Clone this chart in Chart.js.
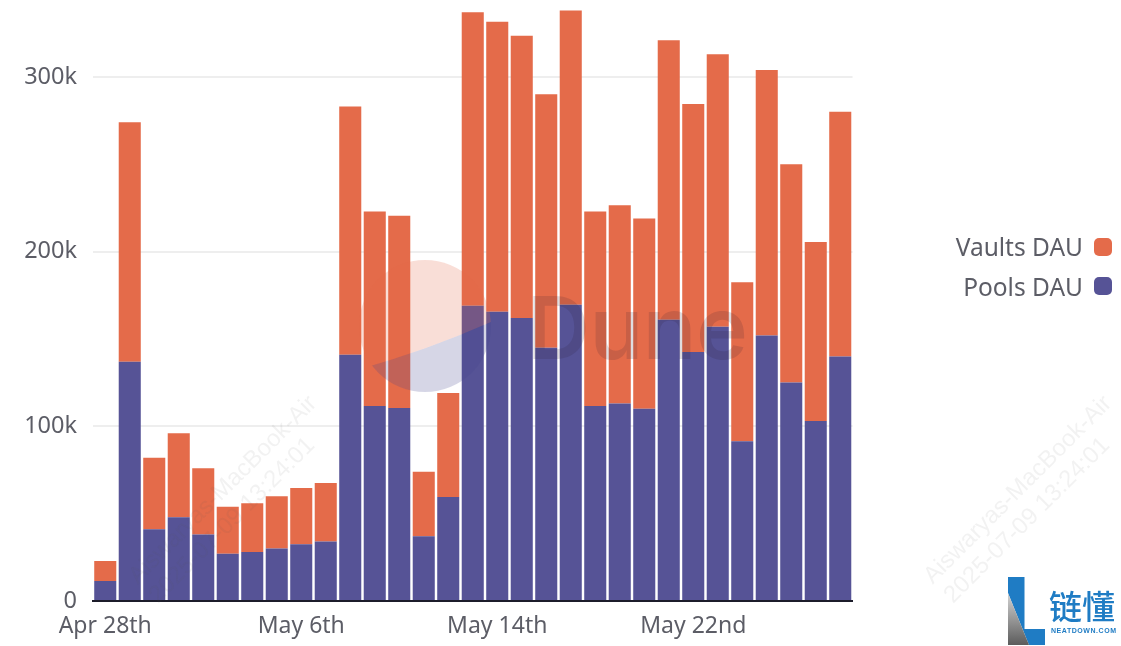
<!DOCTYPE html>
<html>
<head>
<meta charset="utf-8">
<title>Pools and Vaults DAU</title>
<script src="https://cdn.jsdelivr.net/npm/chart.js@4/dist/chart.umd.min.js"></script>
<style>
  html, body { margin: 0; background: #fff; }
  #wrap { position: relative; width: 1121px; height: 646px; overflow: hidden; }
  #legend { position: absolute; right: 9px; top: 227px; font: 24.5px "Noto Sans", sans-serif; color: #5c5d66; }
  #legend div { display: flex; align-items: center; justify-content: flex-end; height: 39.5px; }
  #legend i { display: inline-block; width: 18px; height: 18px; border-radius: 5px; margin-left: 11px; }
</style>
</head>
<body>
<div id="wrap">
  <canvas id="chart" width="1121" height="646"></canvas>
  <div id="legend"></div>
</div>
<script>
const TEXT_COLOR = '#5c5d66';
const VAULTS_COLOR = '#e46b4a';
const POOLS_COLOR = '#565396';

const days = [
  'Apr 28th', 'Apr 29th', 'Apr 30th', 'May 1st', 'May 2nd', 'May 3rd', 'May 4th', 'May 5th',
  'May 6th', 'May 7th', 'May 8th', 'May 9th', 'May 10th', 'May 11th', 'May 12th', 'May 13th',
  'May 14th', 'May 15th', 'May 16th', 'May 17th', 'May 18th', 'May 19th', 'May 20th', 'May 21st',
  'May 22nd', 'May 23rd', 'May 24th', 'May 25th', 'May 26th', 'May 27th', 'May 28th',
];
const poolsDau = [
  11400, 137000, 41000, 48000, 38000, 27000, 28000, 30000,
  32500, 34000, 141000, 111600, 110500, 37000, 59500, 169000,
  165500, 162000, 145000, 169500, 111600, 113000, 110000, 161000,
  142500, 157000, 91500, 152000, 125000, 103000, 140000,
];
const vaultsDau = [
  11500, 137000, 41000, 48000, 38000, 27000, 28000, 30000,
  32200, 33500, 142000, 111400, 110000, 37000, 59500, 168000,
  166000, 161500, 145000, 168500, 111400, 113500, 109000, 160000,
  142000, 156000, 91000, 152000, 125000, 102500, 140000,
];
const yTicks = [0, 100000, 200000, 300000];

// Dune mark, machine stamps and the publisher logo that sit on top of the chart.
const overlays = {
  id: 'overlays',
  afterDatasetsDraw(chart) {
    const ctx = chart.ctx;

    ctx.save();
    ctx.beginPath();
    ctx.arc(425, 326, 66, 0, Math.PI * 2);
    ctx.clip();
    ctx.beginPath();
    ctx.moveTo(350, 372);
    ctx.quadraticCurveTo(430, 350, 500, 318);
    ctx.lineTo(500, 250);
    ctx.lineTo(350, 250);
    ctx.closePath();
    ctx.fillStyle = 'rgba(229, 107, 74, 0.22)';
    ctx.fill();
    ctx.beginPath();
    ctx.moveTo(350, 372);
    ctx.quadraticCurveTo(430, 350, 500, 318);
    ctx.lineTo(500, 400);
    ctx.lineTo(350, 400);
    ctx.closePath();
    ctx.fillStyle = 'rgba(70, 70, 140, 0.22)';
    ctx.fill();
    ctx.restore();

    ctx.save();
    ctx.font = '600 87px Inter, sans-serif';
    ctx.fillStyle = 'rgba(40, 30, 50, 0.15)';
    ctx.textBaseline = 'alphabetic';
    ctx.fillText('Dune', 527, 359);
    ctx.restore();

    [[223, 490], [1018, 490]].forEach(([x, y]) => {
      ctx.save();
      ctx.translate(x, y);
      ctx.rotate(-Math.PI / 4);
      ctx.font = '24px "Liberation Sans", sans-serif';
      ctx.textAlign = 'center';
      ctx.textBaseline = 'middle';
      ctx.fillStyle = 'rgba(90, 90, 90, 0.08)';
      ctx.fillText('Aiswaryas-MacBook-Air', 0, 0);
      ctx.fillText('2025-07-09 13:24:01', -15, 28);
      ctx.restore();
    });

    ctx.save();
    const grey = ctx.createLinearGradient(0, 593, 0, 645);
    grey.addColorStop(0, '#d4d4d4');
    grey.addColorStop(1, '#5c5c5c');
    ctx.fillStyle = '#1f7cc4';
    ctx.beginPath();
    ctx.moveTo(1008, 577);
    ctx.lineTo(1024.5, 577);
    ctx.lineTo(1024.5, 629);
    ctx.lineTo(1045, 629);
    ctx.lineTo(1045, 645);
    ctx.lineTo(1029, 645);
    ctx.lineTo(1008, 593);
    ctx.closePath();
    ctx.fill();
    ctx.fillStyle = grey;
    ctx.beginPath();
    ctx.moveTo(1008, 593);
    ctx.lineTo(1029, 645);
    ctx.lineTo(1008, 645);
    ctx.closePath();
    ctx.fill();
    ctx.fillStyle = '#1f7cc4';
    ctx.font = '500 33px "Noto Sans CJK SC", sans-serif';
    ctx.textBaseline = 'alphabetic';
    ctx.fillText('链懂', 1049, 619);
    ctx.font = 'bold 7px "Liberation Sans", sans-serif';
    ctx.letterSpacing = '0.55px';
    ctx.fillText('NEATDOWN.COM', 1051, 633);
    ctx.restore();
  },
};

const chart = new Chart(document.getElementById('chart'), {
  type: 'bar',
  data: {
    labels: days,
    datasets: [
      { label: 'Pools DAU', data: poolsDau, backgroundColor: POOLS_COLOR },
      { label: 'Vaults DAU', data: vaultsDau, backgroundColor: VAULTS_COLOR },
    ],
  },
  options: {
    responsive: false,
    animation: false,
    layout: { padding: { right: 268.5 } },
    plugins: { legend: { display: false }, tooltip: { enabled: false } },
    datasets: { bar: { categoryPercentage: 1, barPercentage: 0.9 } },
    scales: {
      x: {
        stacked: true,
        afterFit: (scale) => {
          scale.height = 45;
          scale.paddingLeft = 0;
          scale.paddingRight = 0;
        },
        grid: { display: false, drawTicks: false },
        border: { color: '#1c1c2a', width: 2 },
        ticks: {
          autoSkip: false,
          maxRotation: 0,
          padding: 12,
          color: TEXT_COLOR,
          font: { family: '"Noto Sans", sans-serif', size: 23 },
          callback: (value, i) => (i % 8 === 0 ? days[i] : ''),
        },
      },
      y: {
        stacked: true,
        min: 0,
        max: 344000,
        afterFit: (scale) => {
          scale.width = 93;
          scale.paddingTop = 0;
          scale.paddingBottom = 0;
        },
        afterBuildTicks: (scale) => { scale.ticks = yTicks.map((value) => ({ value })); },
        grid: { color: '#eeeeee', lineWidth: 2, drawTicks: false },
        border: { display: false },
        ticks: {
          padding: 16,
          color: TEXT_COLOR,
          font: { family: '"Noto Sans", sans-serif', size: 23.5 },
          callback: (value) => (value === 0 ? '0' : `${value / 1000}k`),
        },
      },
    },
  },
  plugins: [overlays],
});

// Legend sits right of the plot with the swatch after the text, Vaults on top.
document.getElementById('legend').innerHTML = chart.data.datasets.slice().reverse()
  .map((ds) => `<div>${ds.label}<i style="background:${ds.backgroundColor}"></i></div>`)
  .join('');
</script>
</body>
</html>
